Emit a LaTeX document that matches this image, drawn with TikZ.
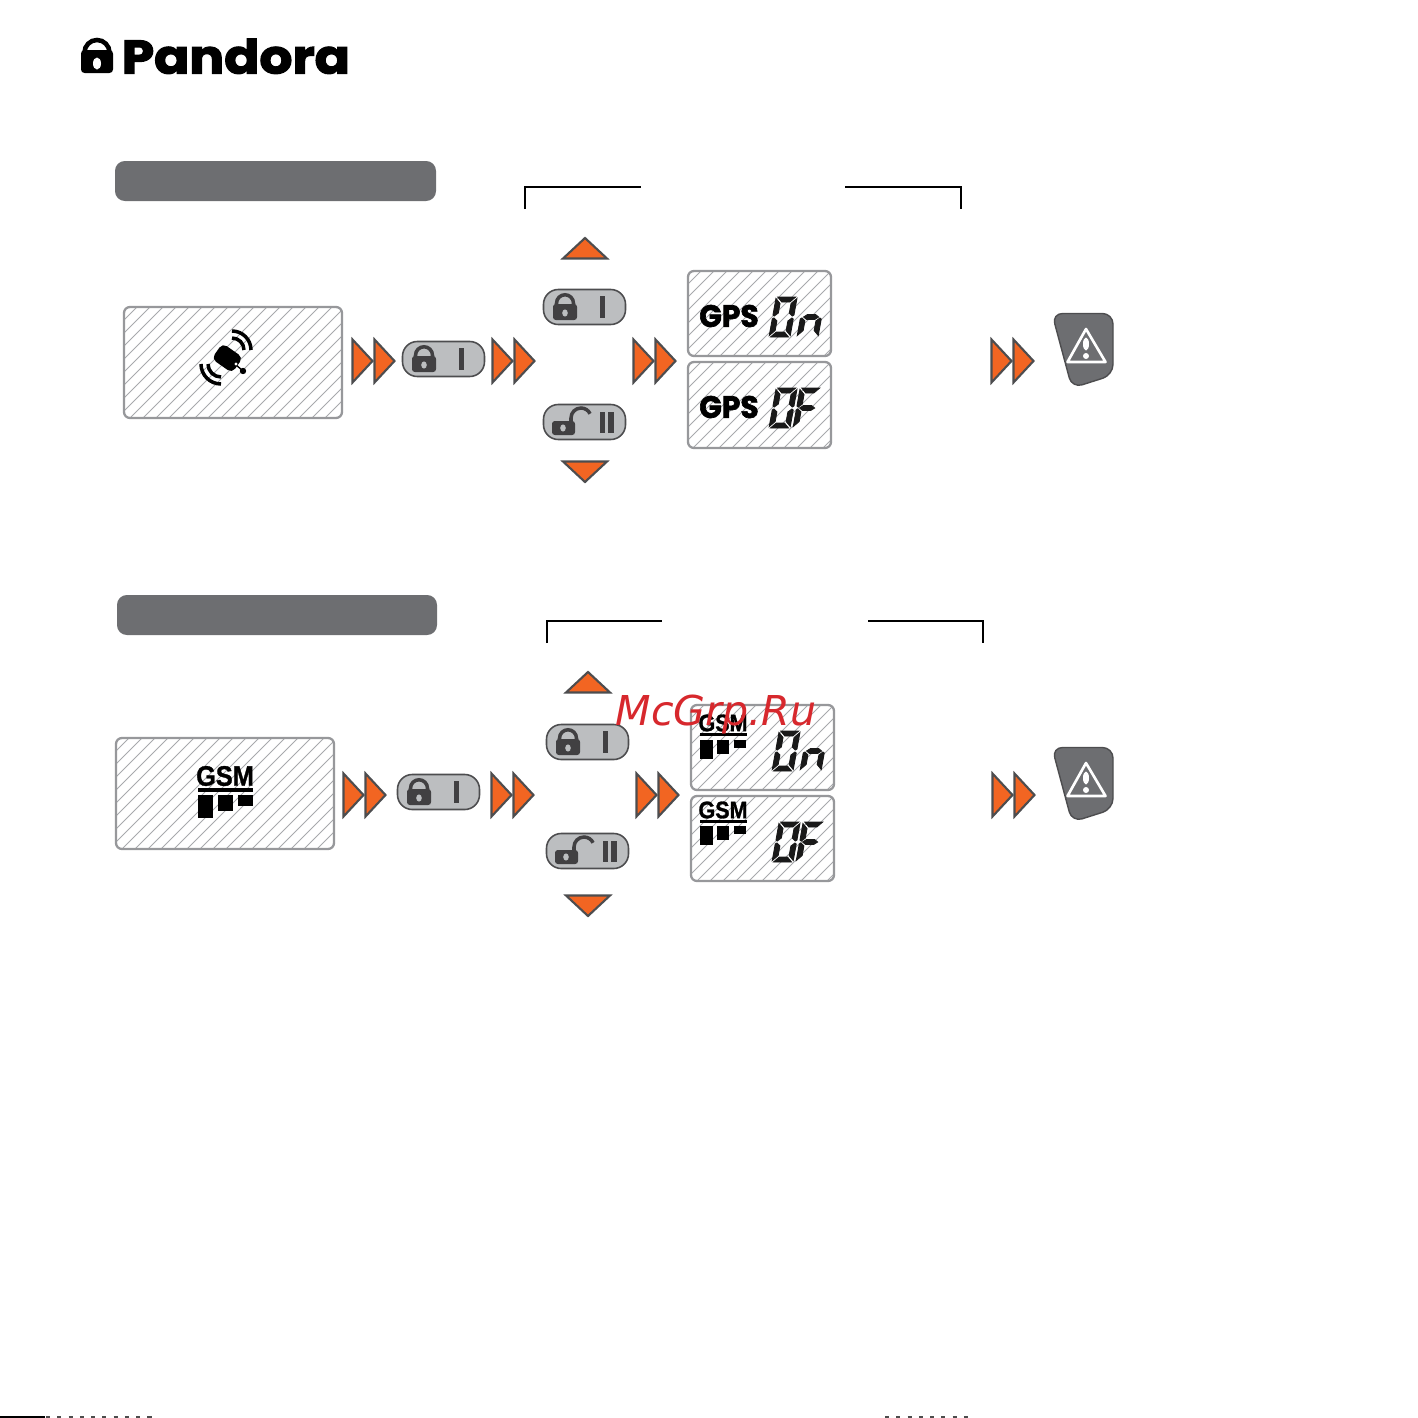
\documentclass[tikz,border=0pt]{standalone}
\usepackage{fontspec}
\setmainfont{Liberation Sans}
\newfontfamily\logofont[FakeBold=2.5]{Poppins Bold}
\newfontfamily\gpsfont[FakeBold=2]{Poppins Bold}
\newfontfamily\gsmfont[FakeBold=1.2]{Liberation Sans Bold}
\newfontfamily\markfont{DejaVu Sans Oblique}
\definecolor{barfill}{HTML}{6D6E71}
\definecolor{edgedark}{HTML}{4D4D4F}
\definecolor{icondk}{HTML}{414042}
\definecolor{lcdedge}{HTML}{97989B}
\definecolor{hatchline}{HTML}{A7A9AC}
\definecolor{btnfill}{HTML}{BCBEC0}
\definecolor{arroworange}{HTML}{F26522}
\definecolor{markred}{HTML}{D7282D}
\newcommand{\lcdbox}[4]{
\begin{scope}
\clip [rounded corners=1.7pt] (#1,#2) rectangle (#3,#4);
\foreach \i in {0,...,26} {
    \draw [hatchline, line width=0.22pt] ({#1-(#4-#2)+13*\i},#4) -- ({#1+13*\i},#2);
}
\end{scope}
\draw [lcdedge, line width=0.65pt, rounded corners=1.7pt] (#1,#2) rectangle (#3,#4);
}
\tikzset{
  arrowtri/.style={fill=arroworange, draw=edgedark, line width=0.6pt, miter limit=3},
  btnbody/.style={fill=btnfill, draw=edgedark, line width=0.45pt, rounded corners=4.2pt},
  icondark/.style={fill=icondk, draw=none},
  twoarrows/.pic={
    \foreach \x in {0,22} {
      \draw [arrowtri] (\x+0.5,-21.5) -- (\x+20.5,0) -- (\x+0.5,21.5) -- cycle;
    }
  },
  lockbtn/.pic={
    \draw [btnbody] (0.5,0.5) rectangle (82.5,35.5);
    \draw [icondk, line width=1pt] (13.5,17) -- (13.5,14.25) arc (180:360:8.5) -- (30.5,17);
    \fill [icondark, rounded corners=0.8pt] (10,15) rectangle (34,31);
    \fill [btnfill] (22,24) ellipse (2.8 and 3.6);
    \fill [icondark] (57,7) rectangle (62,29);
  },
  openbtn/.pic={
    \draw [btnbody] (0.5,0.5) rectangle (82.5,35.5);
    \draw [icondk, line width=1pt] (28,18) -- (28,14) arc (180:335:10);
    \fill [icondark, rounded corners=0.8pt] (9,17) rectangle (32,31);
    \fill [btnfill] (20,24) ellipse (2.8 and 3.6);
    \fill [icondark] (57,8) rectangle (62,29);
    \fill [icondark] (65,8) rectangle (71,29);
  },
  warnbtn/.pic={
    \draw [fill=barfill, draw=edgedark, line width=0.4pt, rounded corners=3pt]
      (-1,-0.5) -- (60,-0.5) -- (60,61) -- (19,74) -- cycle;
    \draw [white, line width=0.75pt, line join=round] (33,15) -- (52.5,48) -- (14.5,48) -- cycle;
    \fill [white] (33,30) ellipse (3 and 6.5);
    \fill [white] (33,42) circle (3);
  },
  segt/.pic={\filldraw (1.5,-40) -- (19.5,-40) -- (14.5,-35) -- (6.5,-35) -- cycle;},
  segb/.pic={\filldraw (1.5,0) -- (19.5,0) -- (14.5,-5) -- (6.5,-5) -- cycle;},
  segm/.pic={\filldraw (3,-20) -- (6.5,-22.5) -- (14.5,-22.5) -- (18,-20) -- (14.5,-17.5) -- (6.5,-17.5) -- cycle;},
  seglu/.pic={\filldraw (0,-38.5) -- (5,-33.5) -- (5,-24) -- (1.5,-21) -- (0,-22) -- cycle;},
  segll/.pic={\filldraw (0,-1.5) -- (5,-6.5) -- (5,-16) -- (1.5,-19) -- (0,-18) -- cycle;},
  segru/.pic={\filldraw (21,-38.5) -- (16,-33.5) -- (16,-24) -- (19.5,-21) -- (21,-22) -- cycle;},
  segrl/.pic={\filldraw (21,-1.5) -- (16,-6.5) -- (16,-16) -- (19.5,-19) -- (21,-18) -- cycle;},
  digit/.pic={
    \begin{scope}[xslant=0.18, black!90, line width=0.25pt]
    \foreach \s in {#1} {
      \pic [transform shape] {\s};
    }
    \end{scope}
  },
  gsmbars/.pic={
    \fill (0,0) rectangle (13,19);
    \fill (17,0) rectangle (29,14);
    \fill (34,0) rectangle (46,8);
  }
}
\begin{document}
\begin{tikzpicture}[x=0.01cm, y=-0.01cm]
\useasboundingbox (0,0) rectangle (1418,1418);
% logo
\fill [rounded corners=1pt] (81,50) rectangle (113,73);
\draw [line width=1.3pt] (84.5,54) -- (84.5,52.5) arc (180:360:12.5) -- (109.5,54);
\fill [white] (97,63.5) ellipse (4 and 6);
\node [font=\logofont\fontsize{13.4}{13.4}\selectfont, inner sep=0pt, anchor=base west, xscale=1.1] (logotext) at (121,73.5) {Pandora};
% title bars
\fill [barfill, rounded corners=2.8pt] (115,161) rectangle (436,201);
\fill [barfill, rounded corners=2.8pt] (117,595) rectangle (437,635);
% brackets
\draw [line width=0.6pt] (525,209) -- (525,187) -- (641,187);
\draw [line width=0.6pt] (845,187) -- (961,187) -- (961,209);
\draw [line width=0.6pt] (547,643) -- (547,621) -- (662,621);
\draw [line width=0.6pt] (868,621) -- (983,621) -- (983,643);
% displays
\lcdbox{124}{307}{342}{418}
\lcdbox{688}{271}{831}{356}
\lcdbox{688}{362}{831}{448}
\lcdbox{116}{738}{334}{849}
\lcdbox{691}{705}{834}{790}
\lcdbox{691}{796}{834}{881}
% satellite
\draw [line width=1pt] (232,331) arc (-90:0:19);
\draw [line width=1pt] (232,338) arc (-90:0:12);
\draw [line width=1pt] (221,384) arc (90:180:20);
\draw [line width=1pt] (221,377) arc (90:180:13);
\fill [rotate around={-35:(228,358)}, rounded corners=1.5pt] (215,349) rectangle (240,368);
\draw [line width=0.4pt] (235,364) -- (243,371);
\fill (243,371) circle (3.2);
\fill [white] (236,364) circle (1.6);
% large gsm
\node [xscale=0.9, inner sep=0pt, font=\gsmfont\fontsize{8}{8}\selectfont] (gsmbig) at (225,776) {GSM};
\fill (198,788) rectangle (253,792);
\fill (198,795) rectangle (213,818);
\fill (218,795) rectangle (233,811);
\fill (238,795) rectangle (253,806);
% small lcd contents
\node [font=\gpsfont\fontsize{8.8}{8.8}\selectfont, inner sep=0pt, xscale=0.96] (gpson) at (729,316) {GPS};
\node [font=\gpsfont\fontsize{8.8}{8.8}\selectfont, inner sep=0pt, xscale=0.96] (gpsoff) at (729,407) {GPS};
\pic at (769,337) {digit={segt,segb,seglu,segll,segru,segrl}};
\pic at (797,337) {digit={segm,segll,segrl}};
\pic at (769,428) {digit={segt,segb,seglu,segll,segru,segrl}};
\pic at (793,428) {digit={segt,seglu,segll,segm}};
\node [xscale=0.9, inner sep=0pt, font=\gsmfont\fontsize{6.8}{6.8}\selectfont] (gsmon) at (723,723) {GSM};
\fill (700,733) rectangle (747,736);
\pic at (700,740) {gsmbars};
\node [xscale=0.9, inner sep=0pt, font=\gsmfont\fontsize{6.8}{6.8}\selectfont] (gsmoff) at (723,810) {GSM};
\fill (700,820) rectangle (747,823);
\pic at (700,826) {gsmbars};
\pic at (772,771) {digit={segt,segb,seglu,segll,segru,segrl}};
\pic at (800,771) {digit={segm,segll,segrl}};
\pic at (772,862) {digit={segt,segb,seglu,segll,segru,segrl}};
\pic at (796,862) {digit={segt,seglu,segll,segm}};
% buttons
\pic at (402,341) {lockbtn};
\pic at (543,289) {lockbtn};
\pic at (543,404) {openbtn};
\pic at (397,774) {lockbtn};
\pic at (546,724) {lockbtn};
\pic at (546,833) {openbtn};
% up and down marks
\foreach \x/\y in {585/238, 588/672} {
    \draw [arrowtri] (\x,\y) -- (\x+22,\y+20.5) -- (\x-22,\y+20.5) -- cycle;
}
\foreach \x/\y in {585/482, 588/916} {
    \draw [arrowtri] (\x,\y) -- (\x+22,\y-20.5) -- (\x-22,\y-20.5) -- cycle;
}
% double arrows
\foreach \x/\y in {352/361, 492/361, 633/361, 991/361, 343/795, 491/795, 636/795, 992/795} {
    \pic at (\x,\y) {twoarrows};
}
% warning keys
\pic at (1053,314) {warnbtn};
\pic at (1053,748) {warnbtn};
% watermark
\node [font=\markfont\fontsize{11.7}{11.7}\selectfont, text=markred, inner sep=0pt, anchor=base] (watermark) at (716,725) {McGrp.Ru};
% bottom edge
\fill (0,1416) rectangle (45,1418);
\draw [line width=0.5pt, dash pattern=on 1.2pt off 2pt, black!70] (46,1417) -- (158,1417);
\draw [line width=0.5pt, dash pattern=on 1.2pt off 2pt, black!70] (885,1417) -- (972,1417);
\end{tikzpicture}
\end{document}
